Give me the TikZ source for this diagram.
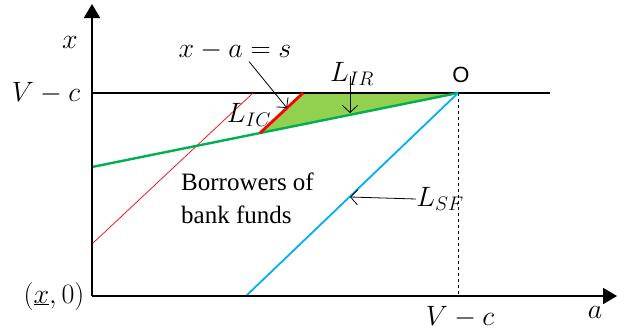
\documentclass[tikz,border=0pt]{standalone}
\usepackage{fix-cm}
\usepackage{fontspec}
\setmainfont{Liberation Serif}
\newfontfamily\sansf{Liberation Sans}
\usetikzlibrary{arrows.meta}
\definecolor{lgreen}{RGB}{0,176,80}
\definecolor{fillgreen}{RGB}{146,208,80}
\definecolor{lblue}{RGB}{0,176,240}
\begin{document}
\begin{tikzpicture}[x=1pt,y=-1pt,
  mlabel/.style={font=\fontsize{28}{32}\selectfont, inner sep=0pt},
  ptr/.style={-{Straight Barb[length=7pt,width=15pt]}, line width=0.8pt},
  axis/.style={line width=1.8pt,-{Triangle[length=14pt,width=16pt]}}]
\useasboundingbox (0,0) rectangle (617,332);
% key points
\coordinate (origin) at (92,296);
\coordinate (ytop) at (92,4);
\coordinate (xend) at (617,296);
\coordinate (VL) at (92,93);
\coordinate (VR) at (550,93);
\coordinate (O) at (458,93);
\coordinate (Obot) at (458,296);
\coordinate (G0) at (92,167);
\coordinate (IC1) at (260,133);
\coordinate (IC2) at (303,93);
\coordinate (R0) at (92,244);
\coordinate (R1) at (253,93);
\coordinate (B0) at (246,296);
\coordinate (ICp) at (287,108);
\coordinate (IRp) at (350,113);
\coordinate (SFp) at (350,197);
% region
\fill[fillgreen] (IC1) -- (IC2) -- (O) -- cycle;
% lines
\draw[line width=1.3pt] (VL) -- (VR);
\draw[dashed, line width=0.8pt] (O) -- (Obot);
\draw[red, line width=0.7pt] (R0) -- (R1);
\draw[lgreen, line width=2.4pt] (G0) -- (O);
\draw[red, line width=2.8pt] (IC1) -- (IC2);
\draw[lblue, line width=1.8pt] (B0) -- (O);
% axes
\draw[axis] (origin) -- (ytop);
\draw[axis] (origin) -- (xend);
% labels
\node[mlabel] (lx) at (70,42) {$x$};
\node[mlabel] (lVc) at (46,93) {$V-c$};
\node[mlabel] (ls) at (235,50) {$x-a=s$};
\node[mlabel] (lIC) at (249,115) {$L_{IC}$};
\node[mlabel] (lIR) at (352,74) {$L_{IR}$};
\node[inner sep=0pt, font=\fontsize{22}{26}\selectfont\sansf] (lO) at (461,75) {O};
\node[inner sep=0pt, anchor=west, align=left, font=\fontsize{25}{33}\selectfont] (lB) at (181,198) {Borrowers of\\bank funds};
\node[mlabel] (lSF) at (440,199) {$L_{SF}$};
\node[mlabel] (lx0) at (54,296) {$(\underline{x},0)$};
\node[mlabel] (lVc2) at (460,317) {$V-c$};
\node[mlabel] (la) at (595,312) {$a$};
% pointers
\draw[ptr] ([xshift=14pt,yshift=-2pt]ls.south) -- (ICp);
\draw[ptr] ([yshift=-2pt]IRp |- lIR.center) -- (IRp);
\draw[ptr] (lSF.west) -- (SFp);
\end{tikzpicture}
\end{document}
